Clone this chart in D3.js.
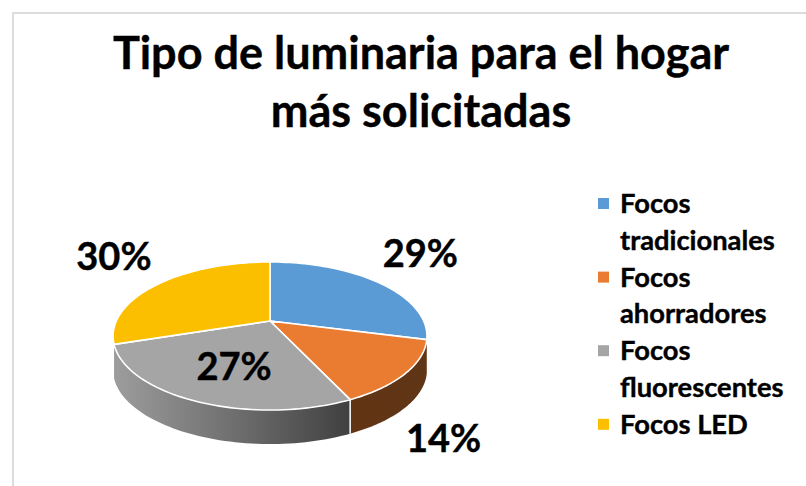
<!DOCTYPE html>
<html><head><meta charset="utf-8">
<script src="https://cdnjs.cloudflare.com/ajax/libs/d3/7.8.5/d3.min.js"></script>
<style>html,body{margin:0;padding:0;background:#fff}svg{display:block}text{font-family:Lato,"Open Sans",sans-serif;font-weight:700;fill:#000;stroke:#000;stroke-width:.4px}</style>
</head><body><svg id="c" width="806" height="486"></svg>
<script>
const categories = ["Focos tradicionales", "Focos ahorradores", "Focos fluorescentes", "Focos LED"];
const legendLines = [["Focos", "tradicionales"], ["Focos", "ahorradores"], ["Focos", "fluorescentes"], ["Focos LED"]];
const values = [29, 14, 27, 30];
const colors = ["#5B9BD5", "#EA7C32", "#A5A5A5", "#FCBF00"];
const titleLines = ["Tipo de luminaria para el hogar", "más solicitadas"];

const W = 806, H = 486;
const svg = d3.select("#c").attr("viewBox", [0, 0, W, H]);
const cx = 270, cy = 321, A = 153.7, B = 71, k = 0.2027, depth = 34;
const TAU = Math.PI * 2;
const project = (t, r = 1) => {
  const w = 1 + k * r * Math.cos(t);
  return [cx + A * r * Math.sin(t) / w, cy - B * r * Math.cos(t) / w];
};
const line = d3.line();
const arcPts = (a, b) => d3.range(0, 61).map(i => project(a + (b - a) * i / 60));

const arcs = d3.pie().sort(null).value(d => d)(values);

// frame
svg.append("path").attr("d", `M13 ${H}V13H${W}`).attr("fill", "none").attr("stroke", "#dcdcdc").attr("stroke-width", 2);

// wall gradients
const defs = svg.append("defs");
const grayG = defs.append("linearGradient").attr("id", "wallGray").attr("gradientUnits", "userSpaceOnUse")
  .attr("x1", 116).attr("x2", 350).attr("y1", 0).attr("y2", 0);
grayG.append("stop").attr("offset", 0).attr("stop-color", "#9c9c9c");
grayG.append("stop").attr("offset", 0.5).attr("stop-color", "#6f6f6f");
grayG.append("stop").attr("offset", 1).attr("stop-color", "#404040");
const brownG = defs.append("linearGradient").attr("id", "wallBrown").attr("gradientUnits", "userSpaceOnUse")
  .attr("x1", 350).attr("x2", 428).attr("y1", 0).attr("y2", 0);
brownG.append("stop").attr("offset", 0).attr("stop-color", "#623414");
brownG.append("stop").attr("offset", 1).attr("stop-color", "#5f3616");

// side walls: only the near part of the rim (the visible range of each slice)
const rightEdge = Math.PI / 2 + Math.asin(k);
const leftEdge = TAU - rightEdge;
const walls = [
  {i: 1, fill: "url(#wallBrown)", a: Math.max(arcs[1].startAngle, rightEdge), b: arcs[1].endAngle},
  {i: 2, fill: "url(#wallGray)", a: arcs[2].startAngle, b: Math.min(arcs[2].endAngle, leftEdge)}
];
svg.append("g").selectAll("path").data(walls).join("path")
  .attr("fill", d => d.fill)
  .attr("d", d => {
    const top = arcPts(d.a, d.b);
    const bottom = top.map(([x, y]) => [x, y + depth]).reverse();
    return line(top.concat(bottom)) + "Z";
  });
// seam between the two walls
{
  const p = project(arcs[2].startAngle);
  svg.append("line").attr("x1", p[0]).attr("x2", p[0]).attr("y1", p[1]).attr("y2", p[1] + depth)
    .attr("stroke", "#fff").attr("stroke-width", 1.5);
}

// top slices
svg.append("g").selectAll("path").data(arcs).join("path")
  .attr("fill", (d, i) => colors[i])
  .attr("stroke", "#fff").attr("stroke-width", 1.6).attr("stroke-linejoin", "round")
  .attr("d", d => line([[cx, cy], ...arcPts(d.startAngle, d.endAngle)]) + "Z");

// title
svg.append("g").selectAll("text").data(titleLines).join("text")
  .attr("x", 421).attr("y", (d, i) => 69 + i * 57.5)
  .attr("text-anchor", "middle").attr("font-size", 45).text(d => d);

// data labels, anchored on each slice's mid-angle rim point and nudged
const labelNudge = [[52, -19], [53, 85], [30, -11], [-55, -17]];
svg.append("g").selectAll("text").data(arcs).join("text")
  .attr("text-anchor", "middle").attr("font-size", 38)
  .attr("x", (d, i) => project((d.startAngle + d.endAngle) / 2, 0.9)[0] + labelNudge[i][0])
  .attr("y", (d, i) => project((d.startAngle + d.endAngle) / 2, 0.9)[1] + labelNudge[i][1])
  .text(d => d.data + "%");

// legend
const lg = svg.append("g");
let row = 0;
legendLines.forEach((lines, i) => {
  const y0 = 213 + row * 36.8;
  lg.append("rect").attr("x", 598).attr("y", y0 - 15).attr("width", 11).attr("height", 11).attr("fill", colors[i]);
  lines.forEach(l => {
    lg.append("text").attr("x", 620).attr("y", 213 + row * 36.8).attr("font-size", 27.3).text(l);
    row++;
  });
});
</script></body></html>
